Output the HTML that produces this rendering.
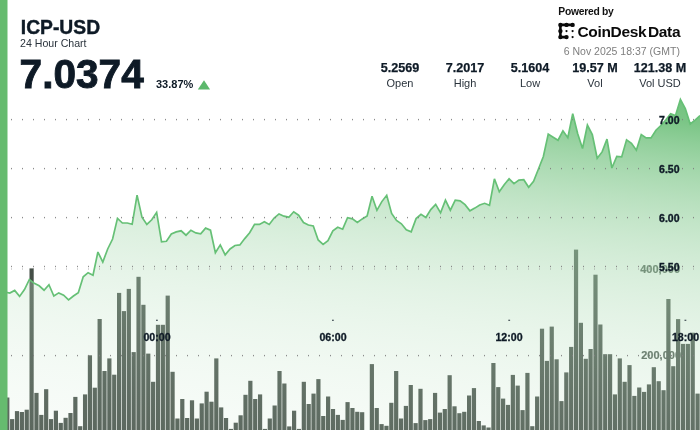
<!DOCTYPE html>
<html><head><meta charset="utf-8"><style>
html,body{margin:0;padding:0;background:#fff;}
body{width:700px;height:430px;overflow:hidden;position:relative;font-family:"Liberation Sans", sans-serif;}
svg{position:absolute;left:0;top:0;will-change:transform;}
</style></head><body>
<svg width="700" height="430" viewBox="0 0 700 430" font-family='"Liberation Sans", sans-serif'>
<defs>
<linearGradient id="vg" x1="0" y1="0" x2="-51.8" y2="436.9" gradientUnits="userSpaceOnUse"><stop offset="0.0000" stop-color="#fff" stop-opacity="0.5716"/><stop offset="0.0455" stop-color="#fff" stop-opacity="0.5716"/><stop offset="0.0909" stop-color="#fff" stop-opacity="0.5576"/><stop offset="0.1364" stop-color="#fff" stop-opacity="0.5157"/><stop offset="0.1818" stop-color="#fff" stop-opacity="0.4770"/><stop offset="0.2273" stop-color="#fff" stop-opacity="0.4413"/><stop offset="0.2727" stop-color="#fff" stop-opacity="0.4081"/><stop offset="0.3182" stop-color="#fff" stop-opacity="0.3775"/><stop offset="0.3636" stop-color="#fff" stop-opacity="0.3492"/><stop offset="0.4091" stop-color="#fff" stop-opacity="0.3230"/><stop offset="0.4545" stop-color="#fff" stop-opacity="0.2988"/><stop offset="0.5000" stop-color="#fff" stop-opacity="0.2763"/><stop offset="0.5455" stop-color="#fff" stop-opacity="0.2556"/><stop offset="0.5909" stop-color="#fff" stop-opacity="0.2364"/><stop offset="0.6364" stop-color="#fff" stop-opacity="0.2187"/><stop offset="0.6818" stop-color="#fff" stop-opacity="0.2023"/><stop offset="0.7273" stop-color="#fff" stop-opacity="0.1871"/><stop offset="0.7727" stop-color="#fff" stop-opacity="0.1731"/><stop offset="0.8182" stop-color="#fff" stop-opacity="0.1601"/><stop offset="0.8636" stop-color="#fff" stop-opacity="0.1481"/><stop offset="0.9091" stop-color="#fff" stop-opacity="0.1370"/><stop offset="0.9545" stop-color="#fff" stop-opacity="0.1267"/><stop offset="1.0000" stop-color="#fff" stop-opacity="0.1172"/></linearGradient>
<linearGradient id="ag" x1="0" y1="0" x2="-51.8" y2="436.9" gradientUnits="userSpaceOnUse">
<stop offset="0.0000" stop-color="rgb(92,184,106)" stop-opacity="0.8500"/><stop offset="0.0455" stop-color="rgb(92,184,106)" stop-opacity="0.8500"/><stop offset="0.0909" stop-color="rgb(92,184,106)" stop-opacity="0.8088"/><stop offset="0.1364" stop-color="rgb(92,184,106)" stop-opacity="0.6920"/><stop offset="0.1818" stop-color="rgb(92,184,106)" stop-opacity="0.5920"/><stop offset="0.2273" stop-color="rgb(92,184,106)" stop-opacity="0.5065"/><stop offset="0.2727" stop-color="rgb(92,184,106)" stop-opacity="0.4334"/><stop offset="0.3182" stop-color="rgb(92,184,106)" stop-opacity="0.3708"/><stop offset="0.3636" stop-color="rgb(92,184,106)" stop-opacity="0.3172"/><stop offset="0.4091" stop-color="rgb(92,184,106)" stop-opacity="0.2714"/><stop offset="0.4545" stop-color="rgb(92,184,106)" stop-opacity="0.2322"/><stop offset="0.5000" stop-color="rgb(92,184,106)" stop-opacity="0.1987"/><stop offset="0.5455" stop-color="rgb(92,184,106)" stop-opacity="0.1700"/><stop offset="0.5909" stop-color="rgb(92,184,106)" stop-opacity="0.1454"/><stop offset="0.6364" stop-color="rgb(92,184,106)" stop-opacity="0.1244"/><stop offset="0.6818" stop-color="rgb(92,184,106)" stop-opacity="0.1064"/><stop offset="0.7273" stop-color="rgb(92,184,106)" stop-opacity="0.0911"/><stop offset="0.7727" stop-color="rgb(92,184,106)" stop-opacity="0.0779"/><stop offset="0.8182" stop-color="rgb(92,184,106)" stop-opacity="0.0667"/><stop offset="0.8636" stop-color="rgb(92,184,106)" stop-opacity="0.0570"/><stop offset="0.9091" stop-color="rgb(92,184,106)" stop-opacity="0.0488"/><stop offset="0.9545" stop-color="rgb(92,184,106)" stop-opacity="0.0417"/><stop offset="1.0000" stop-color="rgb(92,184,106)" stop-opacity="0.0357"/>
</linearGradient>
</defs>
<rect width="700" height="430" fill="#fff"/>
<g font-weight="bold" font-size="11" fill="#46524a" stroke="#46524a" stroke-width="0.2" text-anchor="end">
<text x="680" y="272.5">400,000</text>
<text x="681" y="359.3">200,000</text>
</g>
<g fill="#444e47"><rect x="0.33" y="400" width="4.2" height="45"/><rect x="5.19" y="397.5" width="4.2" height="47.5"/><rect x="10.05" y="419.1" width="4.2" height="25.9"/><rect x="14.91" y="411.1" width="4.2" height="33.9"/><rect x="19.77" y="412" width="4.2" height="33"/><rect x="24.64" y="409.7" width="4.2" height="35.3"/><rect x="29.5" y="268.4" width="4.2" height="176.6"/><rect x="34.36" y="392.9" width="4.2" height="52.1"/><rect x="39.22" y="414.9" width="4.2" height="30.1"/><rect x="44.08" y="389.2" width="4.2" height="55.8"/><rect x="48.94" y="419.1" width="4.2" height="25.9"/><rect x="53.8" y="410.7" width="4.2" height="34.3"/><rect x="58.66" y="422.9" width="4.2" height="22.1"/><rect x="63.52" y="417.8" width="4.2" height="27.2"/><rect x="68.39" y="413" width="4.2" height="32"/><rect x="73.25" y="396.9" width="4.2" height="48.1"/><rect x="78.11" y="426.2" width="4.2" height="18.8"/><rect x="82.97" y="394.4" width="4.2" height="50.6"/><rect x="87.83" y="355.3" width="4.2" height="89.7"/><rect x="92.69" y="387.7" width="4.2" height="57.3"/><rect x="97.55" y="319" width="4.2" height="126"/><rect x="102.41" y="371" width="4.2" height="74"/><rect x="107.27" y="358.4" width="4.2" height="86.6"/><rect x="112.14" y="374.7" width="4.2" height="70.3"/><rect x="117" y="292.9" width="4.2" height="152.1"/><rect x="121.86" y="311.1" width="4.2" height="133.9"/><rect x="126.72" y="288.9" width="4.2" height="156.1"/><rect x="131.58" y="352.1" width="4.2" height="92.9"/><rect x="136.44" y="276.8" width="4.2" height="168.2"/><rect x="141.3" y="304.8" width="4.2" height="140.2"/><rect x="146.16" y="353.6" width="4.2" height="91.4"/><rect x="151.03" y="381.8" width="4.2" height="63.2"/><rect x="155.89" y="324.8" width="4.2" height="120.2"/><rect x="160.75" y="324.8" width="4.2" height="120.2"/><rect x="165.61" y="295.6" width="4.2" height="149.4"/><rect x="170.47" y="371.8" width="4.2" height="73.2"/><rect x="175.33" y="418.5" width="4.2" height="26.5"/><rect x="180.19" y="399" width="4.2" height="46"/><rect x="185.05" y="418" width="4.2" height="27"/><rect x="189.91" y="400.3" width="4.2" height="44.7"/><rect x="194.77" y="418.5" width="4.2" height="26.5"/><rect x="199.64" y="403.4" width="4.2" height="41.6"/><rect x="204.5" y="391.7" width="4.2" height="53.3"/><rect x="209.36" y="401.7" width="4.2" height="43.3"/><rect x="214.22" y="358.4" width="4.2" height="86.6"/><rect x="219.08" y="407.4" width="4.2" height="37.6"/><rect x="223.94" y="418" width="4.2" height="27"/><rect x="228.8" y="428.9" width="4.2" height="16.1"/><rect x="233.66" y="422.7" width="4.2" height="22.3"/><rect x="238.52" y="415.3" width="4.2" height="29.7"/><rect x="243.39" y="394.8" width="4.2" height="50.2"/><rect x="248.25" y="380.8" width="4.2" height="64.2"/><rect x="253.11" y="399" width="4.2" height="46"/><rect x="257.97" y="394.4" width="4.2" height="50.6"/><rect x="262.83" y="428.9" width="4.2" height="16.1"/><rect x="267.69" y="418.5" width="4.2" height="26.5"/><rect x="272.55" y="405.5" width="4.2" height="39.5"/><rect x="277.41" y="371" width="4.2" height="74"/><rect x="282.27" y="383.5" width="4.2" height="61.5"/><rect x="287.14" y="426.4" width="4.2" height="18.6"/><rect x="292" y="410.7" width="4.2" height="34.3"/><rect x="296.86" y="428.9" width="4.2" height="16.1"/><rect x="301.72" y="381.8" width="4.2" height="63.2"/><rect x="306.58" y="404" width="4.2" height="41"/><rect x="311.44" y="393.6" width="4.2" height="51.4"/><rect x="316.3" y="379.1" width="4.2" height="65.9"/><rect x="321.16" y="416" width="4.2" height="29"/><rect x="326.02" y="396.5" width="4.2" height="48.5"/><rect x="330.89" y="409" width="4.2" height="36"/><rect x="335.75" y="414.9" width="4.2" height="30.1"/><rect x="340.61" y="419.9" width="4.2" height="25.1"/><rect x="345.47" y="402.1" width="4.2" height="42.9"/><rect x="350.33" y="408" width="4.2" height="37"/><rect x="355.19" y="411.8" width="4.2" height="33.2"/><rect x="360.05" y="412.2" width="4.2" height="32.8"/><rect x="364.91" y="432" width="4.2" height="13"/><rect x="369.77" y="364.1" width="4.2" height="80.9"/><rect x="374.64" y="408" width="4.2" height="37"/><rect x="379.5" y="424.1" width="4.2" height="20.9"/><rect x="384.36" y="425.8" width="4.2" height="19.2"/><rect x="389.22" y="402.8" width="4.2" height="42.2"/><rect x="394.08" y="371" width="4.2" height="74"/><rect x="398.94" y="418.5" width="4.2" height="26.5"/><rect x="403.8" y="405.9" width="4.2" height="39.1"/><rect x="408.66" y="385" width="4.2" height="60"/><rect x="413.52" y="423.1" width="4.2" height="21.9"/><rect x="418.39" y="388.8" width="4.2" height="56.2"/><rect x="423.25" y="420.1" width="4.2" height="24.9"/><rect x="428.11" y="419.1" width="4.2" height="25.9"/><rect x="432.97" y="392.9" width="4.2" height="52.1"/><rect x="437.83" y="412.6" width="4.2" height="32.4"/><rect x="442.69" y="409" width="4.2" height="36"/><rect x="447.55" y="375.2" width="4.2" height="69.8"/><rect x="452.41" y="406.3" width="4.2" height="38.7"/><rect x="457.27" y="413.2" width="4.2" height="31.8"/><rect x="462.14" y="411.8" width="4.2" height="33.2"/><rect x="467" y="395.5" width="4.2" height="49.5"/><rect x="471.86" y="388.1" width="4.2" height="56.9"/><rect x="476.72" y="421" width="4.2" height="24"/><rect x="481.58" y="425.4" width="4.2" height="19.6"/><rect x="486.44" y="427.5" width="4.2" height="17.5"/><rect x="491.3" y="363" width="4.2" height="82"/><rect x="496.16" y="387.1" width="4.2" height="57.9"/><rect x="501.02" y="398.6" width="4.2" height="46.4"/><rect x="505.89" y="404.9" width="4.2" height="40.1"/><rect x="510.75" y="374.9" width="4.2" height="70.1"/><rect x="515.61" y="385.6" width="4.2" height="59.4"/><rect x="520.47" y="410.1" width="4.2" height="34.9"/><rect x="525.33" y="372.9" width="4.2" height="72.1"/><rect x="530.19" y="426.2" width="4.2" height="18.8"/><rect x="535.05" y="396.5" width="4.2" height="48.5"/><rect x="539.91" y="328.7" width="4.2" height="116.3"/><rect x="544.77" y="360.9" width="4.2" height="84.1"/><rect x="549.64" y="326.6" width="4.2" height="118.4"/><rect x="554.5" y="359.3" width="4.2" height="85.7"/><rect x="559.36" y="401.1" width="4.2" height="43.9"/><rect x="564.22" y="372.4" width="4.2" height="72.6"/><rect x="569.08" y="346.9" width="4.2" height="98.1"/><rect x="573.94" y="249.6" width="4.2" height="195.4"/><rect x="578.8" y="322.8" width="4.2" height="122.2"/><rect x="583.66" y="358.8" width="4.2" height="86.2"/><rect x="588.52" y="349" width="4.2" height="96"/><rect x="593.39" y="274.7" width="4.2" height="170.3"/><rect x="598.25" y="324.5" width="4.2" height="120.5"/><rect x="603.11" y="354.2" width="4.2" height="90.8"/><rect x="607.97" y="354.2" width="4.2" height="90.8"/><rect x="612.83" y="394.4" width="4.2" height="50.6"/><rect x="617.69" y="358.4" width="4.2" height="86.6"/><rect x="622.55" y="381.8" width="4.2" height="63.2"/><rect x="627.41" y="365.1" width="4.2" height="79.9"/><rect x="632.27" y="395.9" width="4.2" height="49.1"/><rect x="637.14" y="387.5" width="4.2" height="57.5"/><rect x="642" y="391.9" width="4.2" height="53.1"/><rect x="646.86" y="384.4" width="4.2" height="60.6"/><rect x="651.72" y="367.2" width="4.2" height="77.8"/><rect x="656.58" y="381.2" width="4.2" height="63.8"/><rect x="661.44" y="390.2" width="4.2" height="54.8"/><rect x="666.3" y="299" width="4.2" height="146"/><rect x="671.16" y="366.2" width="4.2" height="78.8"/><rect x="676.02" y="319.1" width="4.2" height="125.9"/><rect x="680.89" y="343.9" width="4.2" height="101.1"/><rect x="685.75" y="343.9" width="4.2" height="101.1"/><rect x="690.61" y="332.7" width="4.2" height="112.3"/><rect x="695.47" y="393.6" width="4.2" height="51.4"/></g>
<path d="M0,293 L4.9,292 L9.79,293.1 L14.69,290.4 L19.58,296.4 L24.48,289.6 L29.37,279.5 L34.27,283.3 L39.16,285.8 L44.06,290.2 L48.95,284.7 L53.85,296 L58.74,292.9 L63.64,295.2 L68.53,299.8 L73.43,296 L78.32,292.7 L83.22,276.8 L88.11,272.7 L93.01,275.2 L97.9,252 L102.8,262 L107.69,249 L112.59,239 L117.48,218.4 L122.38,223 L127.27,223 L132.17,224.3 L137.06,195.1 L141.96,217.2 L146.85,224.4 L151.75,219.8 L156.64,212.4 L161.54,241.9 L166.43,241.3 L171.33,234 L176.22,231.9 L181.12,230.8 L186.01,235.2 L190.91,230.2 L195.8,232.9 L200.7,233.8 L205.59,228.1 L210.49,230.2 L215.38,252.8 L220.28,244.9 L225.17,254.9 L230.07,249 L234.97,245.5 L239.86,244.9 L244.76,238.6 L249.65,232.7 L254.55,224.4 L259.44,224.4 L264.34,221.8 L269.23,224.5 L274.13,218.1 L279.02,213.9 L283.92,216.2 L288.81,217.2 L293.71,211.8 L298.6,215.2 L303.5,222.5 L308.39,225 L313.29,226 L318.18,240 L323.08,244.4 L327.97,240.7 L332.87,230.8 L337.76,227.3 L342.66,229.2 L347.55,217.7 L352.45,218.9 L357.34,222.5 L362.24,218.9 L367.13,216 L372.03,196.3 L376.92,210.3 L381.82,201.6 L386.71,195.3 L391.61,213.5 L396.5,220.5 L401.4,223.8 L406.29,229.7 L411.19,231.8 L416.08,218.6 L420.98,214.4 L425.87,217.5 L430.77,209.6 L435.66,204.4 L440.56,212.9 L445.45,200.2 L450.35,210.2 L455.24,200.2 L460.14,200.8 L465.03,204.6 L469.93,210.8 L474.83,208.1 L479.72,205 L484.62,203.3 L489.51,205.4 L494.41,178.8 L499.3,191.8 L504.2,184.7 L509.09,178.8 L513.99,183.6 L518.88,180.1 L523.78,179.7 L528.67,187.2 L533.57,181.2 L538.46,169 L543.36,156.5 L548.25,134.1 L553.15,137.2 L558.04,140.2 L562.94,130.8 L567.83,137.7 L572.73,113.6 L577.62,133.5 L582.52,148.5 L587.41,125.1 L592.31,134.5 L597.2,158.2 L602.1,151.9 L606.99,139.1 L611.89,168 L616.78,156.5 L621.68,156.9 L626.57,139.8 L631.47,143.3 L636.36,150.2 L641.26,134.5 L646.15,137.9 L651.05,137.9 L655.94,130.2 L660.84,125.5 L665.73,120 L670.63,113.8 L675.52,115.6 L680.42,99.5 L685.31,108.5 L690.21,124 L695.1,120.2 L700,115.6 L700,440 L0,440 Z" fill="url(#vg)"/>
<path d="M0,293 L4.9,292 L9.79,293.1 L14.69,290.4 L19.58,296.4 L24.48,289.6 L29.37,279.5 L34.27,283.3 L39.16,285.8 L44.06,290.2 L48.95,284.7 L53.85,296 L58.74,292.9 L63.64,295.2 L68.53,299.8 L73.43,296 L78.32,292.7 L83.22,276.8 L88.11,272.7 L93.01,275.2 L97.9,252 L102.8,262 L107.69,249 L112.59,239 L117.48,218.4 L122.38,223 L127.27,223 L132.17,224.3 L137.06,195.1 L141.96,217.2 L146.85,224.4 L151.75,219.8 L156.64,212.4 L161.54,241.9 L166.43,241.3 L171.33,234 L176.22,231.9 L181.12,230.8 L186.01,235.2 L190.91,230.2 L195.8,232.9 L200.7,233.8 L205.59,228.1 L210.49,230.2 L215.38,252.8 L220.28,244.9 L225.17,254.9 L230.07,249 L234.97,245.5 L239.86,244.9 L244.76,238.6 L249.65,232.7 L254.55,224.4 L259.44,224.4 L264.34,221.8 L269.23,224.5 L274.13,218.1 L279.02,213.9 L283.92,216.2 L288.81,217.2 L293.71,211.8 L298.6,215.2 L303.5,222.5 L308.39,225 L313.29,226 L318.18,240 L323.08,244.4 L327.97,240.7 L332.87,230.8 L337.76,227.3 L342.66,229.2 L347.55,217.7 L352.45,218.9 L357.34,222.5 L362.24,218.9 L367.13,216 L372.03,196.3 L376.92,210.3 L381.82,201.6 L386.71,195.3 L391.61,213.5 L396.5,220.5 L401.4,223.8 L406.29,229.7 L411.19,231.8 L416.08,218.6 L420.98,214.4 L425.87,217.5 L430.77,209.6 L435.66,204.4 L440.56,212.9 L445.45,200.2 L450.35,210.2 L455.24,200.2 L460.14,200.8 L465.03,204.6 L469.93,210.8 L474.83,208.1 L479.72,205 L484.62,203.3 L489.51,205.4 L494.41,178.8 L499.3,191.8 L504.2,184.7 L509.09,178.8 L513.99,183.6 L518.88,180.1 L523.78,179.7 L528.67,187.2 L533.57,181.2 L538.46,169 L543.36,156.5 L548.25,134.1 L553.15,137.2 L558.04,140.2 L562.94,130.8 L567.83,137.7 L572.73,113.6 L577.62,133.5 L582.52,148.5 L587.41,125.1 L592.31,134.5 L597.2,158.2 L602.1,151.9 L606.99,139.1 L611.89,168 L616.78,156.5 L621.68,156.9 L626.57,139.8 L631.47,143.3 L636.36,150.2 L641.26,134.5 L646.15,137.9 L651.05,137.9 L655.94,130.2 L660.84,125.5 L665.73,120 L670.63,113.8 L675.52,115.6 L680.42,99.5 L685.31,108.5 L690.21,124 L695.1,120.2 L700,115.6 L700,440 L0,440 Z" fill="url(#ag)"/>
<path d="M0,293 L4.9,292 L9.79,293.1 L14.69,290.4 L19.58,296.4 L24.48,289.6 L29.37,279.5 L34.27,283.3 L39.16,285.8 L44.06,290.2 L48.95,284.7 L53.85,296 L58.74,292.9 L63.64,295.2 L68.53,299.8 L73.43,296 L78.32,292.7 L83.22,276.8 L88.11,272.7 L93.01,275.2 L97.9,252 L102.8,262 L107.69,249 L112.59,239 L117.48,218.4 L122.38,223 L127.27,223 L132.17,224.3 L137.06,195.1 L141.96,217.2 L146.85,224.4 L151.75,219.8 L156.64,212.4 L161.54,241.9 L166.43,241.3 L171.33,234 L176.22,231.9 L181.12,230.8 L186.01,235.2 L190.91,230.2 L195.8,232.9 L200.7,233.8 L205.59,228.1 L210.49,230.2 L215.38,252.8 L220.28,244.9 L225.17,254.9 L230.07,249 L234.97,245.5 L239.86,244.9 L244.76,238.6 L249.65,232.7 L254.55,224.4 L259.44,224.4 L264.34,221.8 L269.23,224.5 L274.13,218.1 L279.02,213.9 L283.92,216.2 L288.81,217.2 L293.71,211.8 L298.6,215.2 L303.5,222.5 L308.39,225 L313.29,226 L318.18,240 L323.08,244.4 L327.97,240.7 L332.87,230.8 L337.76,227.3 L342.66,229.2 L347.55,217.7 L352.45,218.9 L357.34,222.5 L362.24,218.9 L367.13,216 L372.03,196.3 L376.92,210.3 L381.82,201.6 L386.71,195.3 L391.61,213.5 L396.5,220.5 L401.4,223.8 L406.29,229.7 L411.19,231.8 L416.08,218.6 L420.98,214.4 L425.87,217.5 L430.77,209.6 L435.66,204.4 L440.56,212.9 L445.45,200.2 L450.35,210.2 L455.24,200.2 L460.14,200.8 L465.03,204.6 L469.93,210.8 L474.83,208.1 L479.72,205 L484.62,203.3 L489.51,205.4 L494.41,178.8 L499.3,191.8 L504.2,184.7 L509.09,178.8 L513.99,183.6 L518.88,180.1 L523.78,179.7 L528.67,187.2 L533.57,181.2 L538.46,169 L543.36,156.5 L548.25,134.1 L553.15,137.2 L558.04,140.2 L562.94,130.8 L567.83,137.7 L572.73,113.6 L577.62,133.5 L582.52,148.5 L587.41,125.1 L592.31,134.5 L597.2,158.2 L602.1,151.9 L606.99,139.1 L611.89,168 L616.78,156.5 L621.68,156.9 L626.57,139.8 L631.47,143.3 L636.36,150.2 L641.26,134.5 L646.15,137.9 L651.05,137.9 L655.94,130.2 L660.84,125.5 L665.73,120 L670.63,113.8 L675.52,115.6 L680.42,99.5 L685.31,108.5 L690.21,124 L695.1,120.2 L700,115.6" fill="none" stroke="#66c076" stroke-width="1.7" stroke-linejoin="miter" stroke-miterlimit="3"/>
<g fill="#808080" opacity="0.9"><rect x="11" y="118.9" width="1" height="1.4"/><rect x="22" y="118.9" width="1" height="1.4"/><rect x="33" y="118.9" width="1" height="1.4"/><rect x="44" y="118.9" width="1" height="1.4"/><rect x="55" y="118.9" width="1" height="1.4"/><rect x="66" y="118.9" width="1" height="1.4"/><rect x="77" y="118.9" width="1" height="1.4"/><rect x="88" y="118.9" width="1" height="1.4"/><rect x="99" y="118.9" width="1" height="1.4"/><rect x="110" y="118.9" width="1" height="1.4"/><rect x="121" y="118.9" width="1" height="1.4"/><rect x="132" y="118.9" width="1" height="1.4"/><rect x="143" y="118.9" width="1" height="1.4"/><rect x="154" y="118.9" width="1" height="1.4"/><rect x="165" y="118.9" width="1" height="1.4"/><rect x="176" y="118.9" width="1" height="1.4"/><rect x="187" y="118.9" width="1" height="1.4"/><rect x="198" y="118.9" width="1" height="1.4"/><rect x="209" y="118.9" width="1" height="1.4"/><rect x="220" y="118.9" width="1" height="1.4"/><rect x="231" y="118.9" width="1" height="1.4"/><rect x="242" y="118.9" width="1" height="1.4"/><rect x="253" y="118.9" width="1" height="1.4"/><rect x="264" y="118.9" width="1" height="1.4"/><rect x="275" y="118.9" width="1" height="1.4"/><rect x="286" y="118.9" width="1" height="1.4"/><rect x="297" y="118.9" width="1" height="1.4"/><rect x="308" y="118.9" width="1" height="1.4"/><rect x="319" y="118.9" width="1" height="1.4"/><rect x="330" y="118.9" width="1" height="1.4"/><rect x="341" y="118.9" width="1" height="1.4"/><rect x="352" y="118.9" width="1" height="1.4"/><rect x="363" y="118.9" width="1" height="1.4"/><rect x="374" y="118.9" width="1" height="1.4"/><rect x="385" y="118.9" width="1" height="1.4"/><rect x="396" y="118.9" width="1" height="1.4"/><rect x="407" y="118.9" width="1" height="1.4"/><rect x="418" y="118.9" width="1" height="1.4"/><rect x="429" y="118.9" width="1" height="1.4"/><rect x="440" y="118.9" width="1" height="1.4"/><rect x="451" y="118.9" width="1" height="1.4"/><rect x="462" y="118.9" width="1" height="1.4"/><rect x="473" y="118.9" width="1" height="1.4"/><rect x="484" y="118.9" width="1" height="1.4"/><rect x="495" y="118.9" width="1" height="1.4"/><rect x="506" y="118.9" width="1" height="1.4"/><rect x="517" y="118.9" width="1" height="1.4"/><rect x="528" y="118.9" width="1" height="1.4"/><rect x="539" y="118.9" width="1" height="1.4"/><rect x="550" y="118.9" width="1" height="1.4"/><rect x="561" y="118.9" width="1" height="1.4"/><rect x="572" y="118.9" width="1" height="1.4"/><rect x="583" y="118.9" width="1" height="1.4"/><rect x="594" y="118.9" width="1" height="1.4"/><rect x="605" y="118.9" width="1" height="1.4"/><rect x="616" y="118.9" width="1" height="1.4"/><rect x="627" y="118.9" width="1" height="1.4"/><rect x="638" y="118.9" width="1" height="1.4"/><rect x="649" y="118.9" width="1" height="1.4"/><rect x="682" y="118.9" width="1" height="1.4"/><rect x="693" y="118.9" width="1" height="1.4"/></g><g fill="#808080" opacity="0.9"><rect x="11" y="167.9" width="1" height="1.4"/><rect x="22" y="167.9" width="1" height="1.4"/><rect x="33" y="167.9" width="1" height="1.4"/><rect x="44" y="167.9" width="1" height="1.4"/><rect x="55" y="167.9" width="1" height="1.4"/><rect x="66" y="167.9" width="1" height="1.4"/><rect x="77" y="167.9" width="1" height="1.4"/><rect x="88" y="167.9" width="1" height="1.4"/><rect x="99" y="167.9" width="1" height="1.4"/><rect x="110" y="167.9" width="1" height="1.4"/><rect x="121" y="167.9" width="1" height="1.4"/><rect x="132" y="167.9" width="1" height="1.4"/><rect x="143" y="167.9" width="1" height="1.4"/><rect x="154" y="167.9" width="1" height="1.4"/><rect x="165" y="167.9" width="1" height="1.4"/><rect x="176" y="167.9" width="1" height="1.4"/><rect x="187" y="167.9" width="1" height="1.4"/><rect x="198" y="167.9" width="1" height="1.4"/><rect x="209" y="167.9" width="1" height="1.4"/><rect x="220" y="167.9" width="1" height="1.4"/><rect x="231" y="167.9" width="1" height="1.4"/><rect x="242" y="167.9" width="1" height="1.4"/><rect x="253" y="167.9" width="1" height="1.4"/><rect x="264" y="167.9" width="1" height="1.4"/><rect x="275" y="167.9" width="1" height="1.4"/><rect x="286" y="167.9" width="1" height="1.4"/><rect x="297" y="167.9" width="1" height="1.4"/><rect x="308" y="167.9" width="1" height="1.4"/><rect x="319" y="167.9" width="1" height="1.4"/><rect x="330" y="167.9" width="1" height="1.4"/><rect x="341" y="167.9" width="1" height="1.4"/><rect x="352" y="167.9" width="1" height="1.4"/><rect x="363" y="167.9" width="1" height="1.4"/><rect x="374" y="167.9" width="1" height="1.4"/><rect x="385" y="167.9" width="1" height="1.4"/><rect x="396" y="167.9" width="1" height="1.4"/><rect x="407" y="167.9" width="1" height="1.4"/><rect x="418" y="167.9" width="1" height="1.4"/><rect x="429" y="167.9" width="1" height="1.4"/><rect x="440" y="167.9" width="1" height="1.4"/><rect x="451" y="167.9" width="1" height="1.4"/><rect x="462" y="167.9" width="1" height="1.4"/><rect x="473" y="167.9" width="1" height="1.4"/><rect x="484" y="167.9" width="1" height="1.4"/><rect x="495" y="167.9" width="1" height="1.4"/><rect x="506" y="167.9" width="1" height="1.4"/><rect x="517" y="167.9" width="1" height="1.4"/><rect x="528" y="167.9" width="1" height="1.4"/><rect x="539" y="167.9" width="1" height="1.4"/><rect x="550" y="167.9" width="1" height="1.4"/><rect x="561" y="167.9" width="1" height="1.4"/><rect x="572" y="167.9" width="1" height="1.4"/><rect x="583" y="167.9" width="1" height="1.4"/><rect x="594" y="167.9" width="1" height="1.4"/><rect x="605" y="167.9" width="1" height="1.4"/><rect x="616" y="167.9" width="1" height="1.4"/><rect x="627" y="167.9" width="1" height="1.4"/><rect x="638" y="167.9" width="1" height="1.4"/><rect x="649" y="167.9" width="1" height="1.4"/><rect x="682" y="167.9" width="1" height="1.4"/><rect x="693" y="167.9" width="1" height="1.4"/></g><g fill="#808080" opacity="0.9"><rect x="11" y="216.9" width="1" height="1.4"/><rect x="22" y="216.9" width="1" height="1.4"/><rect x="33" y="216.9" width="1" height="1.4"/><rect x="44" y="216.9" width="1" height="1.4"/><rect x="55" y="216.9" width="1" height="1.4"/><rect x="66" y="216.9" width="1" height="1.4"/><rect x="77" y="216.9" width="1" height="1.4"/><rect x="88" y="216.9" width="1" height="1.4"/><rect x="99" y="216.9" width="1" height="1.4"/><rect x="110" y="216.9" width="1" height="1.4"/><rect x="121" y="216.9" width="1" height="1.4"/><rect x="132" y="216.9" width="1" height="1.4"/><rect x="143" y="216.9" width="1" height="1.4"/><rect x="154" y="216.9" width="1" height="1.4"/><rect x="165" y="216.9" width="1" height="1.4"/><rect x="176" y="216.9" width="1" height="1.4"/><rect x="187" y="216.9" width="1" height="1.4"/><rect x="198" y="216.9" width="1" height="1.4"/><rect x="209" y="216.9" width="1" height="1.4"/><rect x="220" y="216.9" width="1" height="1.4"/><rect x="231" y="216.9" width="1" height="1.4"/><rect x="242" y="216.9" width="1" height="1.4"/><rect x="253" y="216.9" width="1" height="1.4"/><rect x="264" y="216.9" width="1" height="1.4"/><rect x="275" y="216.9" width="1" height="1.4"/><rect x="286" y="216.9" width="1" height="1.4"/><rect x="297" y="216.9" width="1" height="1.4"/><rect x="308" y="216.9" width="1" height="1.4"/><rect x="319" y="216.9" width="1" height="1.4"/><rect x="330" y="216.9" width="1" height="1.4"/><rect x="341" y="216.9" width="1" height="1.4"/><rect x="352" y="216.9" width="1" height="1.4"/><rect x="363" y="216.9" width="1" height="1.4"/><rect x="374" y="216.9" width="1" height="1.4"/><rect x="385" y="216.9" width="1" height="1.4"/><rect x="396" y="216.9" width="1" height="1.4"/><rect x="407" y="216.9" width="1" height="1.4"/><rect x="418" y="216.9" width="1" height="1.4"/><rect x="429" y="216.9" width="1" height="1.4"/><rect x="440" y="216.9" width="1" height="1.4"/><rect x="451" y="216.9" width="1" height="1.4"/><rect x="462" y="216.9" width="1" height="1.4"/><rect x="473" y="216.9" width="1" height="1.4"/><rect x="484" y="216.9" width="1" height="1.4"/><rect x="495" y="216.9" width="1" height="1.4"/><rect x="506" y="216.9" width="1" height="1.4"/><rect x="517" y="216.9" width="1" height="1.4"/><rect x="528" y="216.9" width="1" height="1.4"/><rect x="539" y="216.9" width="1" height="1.4"/><rect x="550" y="216.9" width="1" height="1.4"/><rect x="561" y="216.9" width="1" height="1.4"/><rect x="572" y="216.9" width="1" height="1.4"/><rect x="583" y="216.9" width="1" height="1.4"/><rect x="594" y="216.9" width="1" height="1.4"/><rect x="605" y="216.9" width="1" height="1.4"/><rect x="616" y="216.9" width="1" height="1.4"/><rect x="627" y="216.9" width="1" height="1.4"/><rect x="638" y="216.9" width="1" height="1.4"/><rect x="649" y="216.9" width="1" height="1.4"/><rect x="682" y="216.9" width="1" height="1.4"/><rect x="693" y="216.9" width="1" height="1.4"/></g><g fill="#808080" opacity="0.9"><rect x="11" y="265.8" width="1" height="1.4"/><rect x="22" y="265.8" width="1" height="1.4"/><rect x="33" y="265.8" width="1" height="1.4"/><rect x="44" y="265.8" width="1" height="1.4"/><rect x="55" y="265.8" width="1" height="1.4"/><rect x="66" y="265.8" width="1" height="1.4"/><rect x="77" y="265.8" width="1" height="1.4"/><rect x="88" y="265.8" width="1" height="1.4"/><rect x="99" y="265.8" width="1" height="1.4"/><rect x="110" y="265.8" width="1" height="1.4"/><rect x="121" y="265.8" width="1" height="1.4"/><rect x="132" y="265.8" width="1" height="1.4"/><rect x="143" y="265.8" width="1" height="1.4"/><rect x="154" y="265.8" width="1" height="1.4"/><rect x="165" y="265.8" width="1" height="1.4"/><rect x="176" y="265.8" width="1" height="1.4"/><rect x="187" y="265.8" width="1" height="1.4"/><rect x="198" y="265.8" width="1" height="1.4"/><rect x="209" y="265.8" width="1" height="1.4"/><rect x="220" y="265.8" width="1" height="1.4"/><rect x="231" y="265.8" width="1" height="1.4"/><rect x="242" y="265.8" width="1" height="1.4"/><rect x="253" y="265.8" width="1" height="1.4"/><rect x="264" y="265.8" width="1" height="1.4"/><rect x="275" y="265.8" width="1" height="1.4"/><rect x="286" y="265.8" width="1" height="1.4"/><rect x="297" y="265.8" width="1" height="1.4"/><rect x="308" y="265.8" width="1" height="1.4"/><rect x="319" y="265.8" width="1" height="1.4"/><rect x="330" y="265.8" width="1" height="1.4"/><rect x="341" y="265.8" width="1" height="1.4"/><rect x="352" y="265.8" width="1" height="1.4"/><rect x="363" y="265.8" width="1" height="1.4"/><rect x="374" y="265.8" width="1" height="1.4"/><rect x="385" y="265.8" width="1" height="1.4"/><rect x="396" y="265.8" width="1" height="1.4"/><rect x="407" y="265.8" width="1" height="1.4"/><rect x="418" y="265.8" width="1" height="1.4"/><rect x="429" y="265.8" width="1" height="1.4"/><rect x="440" y="265.8" width="1" height="1.4"/><rect x="451" y="265.8" width="1" height="1.4"/><rect x="462" y="265.8" width="1" height="1.4"/><rect x="473" y="265.8" width="1" height="1.4"/><rect x="484" y="265.8" width="1" height="1.4"/><rect x="495" y="265.8" width="1" height="1.4"/><rect x="506" y="265.8" width="1" height="1.4"/><rect x="517" y="265.8" width="1" height="1.4"/><rect x="528" y="265.8" width="1" height="1.4"/><rect x="539" y="265.8" width="1" height="1.4"/><rect x="550" y="265.8" width="1" height="1.4"/><rect x="561" y="265.8" width="1" height="1.4"/><rect x="572" y="265.8" width="1" height="1.4"/><rect x="583" y="265.8" width="1" height="1.4"/><rect x="594" y="265.8" width="1" height="1.4"/><rect x="605" y="265.8" width="1" height="1.4"/><rect x="616" y="265.8" width="1" height="1.4"/><rect x="627" y="265.8" width="1" height="1.4"/><rect x="638" y="265.8" width="1" height="1.4"/><rect x="649" y="265.8" width="1" height="1.4"/><rect x="682" y="265.8" width="1" height="1.4"/><rect x="693" y="265.8" width="1" height="1.4"/></g><g fill="#8a8a8a" opacity="0.5"><rect x="11" y="268.3" width="1" height="1.4"/><rect x="22" y="268.3" width="1" height="1.4"/><rect x="33" y="268.3" width="1" height="1.4"/><rect x="44" y="268.3" width="1" height="1.4"/><rect x="55" y="268.3" width="1" height="1.4"/><rect x="66" y="268.3" width="1" height="1.4"/><rect x="77" y="268.3" width="1" height="1.4"/><rect x="88" y="268.3" width="1" height="1.4"/><rect x="99" y="268.3" width="1" height="1.4"/><rect x="110" y="268.3" width="1" height="1.4"/><rect x="121" y="268.3" width="1" height="1.4"/><rect x="132" y="268.3" width="1" height="1.4"/><rect x="143" y="268.3" width="1" height="1.4"/><rect x="154" y="268.3" width="1" height="1.4"/><rect x="165" y="268.3" width="1" height="1.4"/><rect x="176" y="268.3" width="1" height="1.4"/><rect x="187" y="268.3" width="1" height="1.4"/><rect x="198" y="268.3" width="1" height="1.4"/><rect x="209" y="268.3" width="1" height="1.4"/><rect x="220" y="268.3" width="1" height="1.4"/><rect x="231" y="268.3" width="1" height="1.4"/><rect x="242" y="268.3" width="1" height="1.4"/><rect x="253" y="268.3" width="1" height="1.4"/><rect x="264" y="268.3" width="1" height="1.4"/><rect x="275" y="268.3" width="1" height="1.4"/><rect x="286" y="268.3" width="1" height="1.4"/><rect x="297" y="268.3" width="1" height="1.4"/><rect x="308" y="268.3" width="1" height="1.4"/><rect x="319" y="268.3" width="1" height="1.4"/><rect x="330" y="268.3" width="1" height="1.4"/><rect x="341" y="268.3" width="1" height="1.4"/><rect x="352" y="268.3" width="1" height="1.4"/><rect x="363" y="268.3" width="1" height="1.4"/><rect x="374" y="268.3" width="1" height="1.4"/><rect x="385" y="268.3" width="1" height="1.4"/><rect x="396" y="268.3" width="1" height="1.4"/><rect x="407" y="268.3" width="1" height="1.4"/><rect x="418" y="268.3" width="1" height="1.4"/><rect x="429" y="268.3" width="1" height="1.4"/><rect x="440" y="268.3" width="1" height="1.4"/><rect x="451" y="268.3" width="1" height="1.4"/><rect x="462" y="268.3" width="1" height="1.4"/><rect x="473" y="268.3" width="1" height="1.4"/><rect x="484" y="268.3" width="1" height="1.4"/><rect x="495" y="268.3" width="1" height="1.4"/><rect x="506" y="268.3" width="1" height="1.4"/><rect x="517" y="268.3" width="1" height="1.4"/><rect x="528" y="268.3" width="1" height="1.4"/><rect x="539" y="268.3" width="1" height="1.4"/><rect x="550" y="268.3" width="1" height="1.4"/><rect x="561" y="268.3" width="1" height="1.4"/><rect x="572" y="268.3" width="1" height="1.4"/><rect x="583" y="268.3" width="1" height="1.4"/><rect x="594" y="268.3" width="1" height="1.4"/><rect x="605" y="268.3" width="1" height="1.4"/><rect x="616" y="268.3" width="1" height="1.4"/><rect x="627" y="268.3" width="1" height="1.4"/><rect x="638" y="268.3" width="1" height="1.4"/><rect x="649" y="268.3" width="1" height="1.4"/><rect x="660" y="268.3" width="1" height="1.4"/><rect x="671" y="268.3" width="1" height="1.4"/><rect x="682" y="268.3" width="1" height="1.4"/><rect x="693" y="268.3" width="1" height="1.4"/></g><g fill="#808080" opacity="0.9"><rect x="11" y="354.9" width="1" height="1.4"/><rect x="22" y="354.9" width="1" height="1.4"/><rect x="33" y="354.9" width="1" height="1.4"/><rect x="44" y="354.9" width="1" height="1.4"/><rect x="55" y="354.9" width="1" height="1.4"/><rect x="66" y="354.9" width="1" height="1.4"/><rect x="77" y="354.9" width="1" height="1.4"/><rect x="88" y="354.9" width="1" height="1.4"/><rect x="99" y="354.9" width="1" height="1.4"/><rect x="110" y="354.9" width="1" height="1.4"/><rect x="121" y="354.9" width="1" height="1.4"/><rect x="132" y="354.9" width="1" height="1.4"/><rect x="143" y="354.9" width="1" height="1.4"/><rect x="154" y="354.9" width="1" height="1.4"/><rect x="165" y="354.9" width="1" height="1.4"/><rect x="176" y="354.9" width="1" height="1.4"/><rect x="187" y="354.9" width="1" height="1.4"/><rect x="198" y="354.9" width="1" height="1.4"/><rect x="209" y="354.9" width="1" height="1.4"/><rect x="220" y="354.9" width="1" height="1.4"/><rect x="231" y="354.9" width="1" height="1.4"/><rect x="242" y="354.9" width="1" height="1.4"/><rect x="253" y="354.9" width="1" height="1.4"/><rect x="264" y="354.9" width="1" height="1.4"/><rect x="275" y="354.9" width="1" height="1.4"/><rect x="286" y="354.9" width="1" height="1.4"/><rect x="297" y="354.9" width="1" height="1.4"/><rect x="308" y="354.9" width="1" height="1.4"/><rect x="319" y="354.9" width="1" height="1.4"/><rect x="330" y="354.9" width="1" height="1.4"/><rect x="341" y="354.9" width="1" height="1.4"/><rect x="352" y="354.9" width="1" height="1.4"/><rect x="363" y="354.9" width="1" height="1.4"/><rect x="374" y="354.9" width="1" height="1.4"/><rect x="385" y="354.9" width="1" height="1.4"/><rect x="396" y="354.9" width="1" height="1.4"/><rect x="407" y="354.9" width="1" height="1.4"/><rect x="418" y="354.9" width="1" height="1.4"/><rect x="429" y="354.9" width="1" height="1.4"/><rect x="440" y="354.9" width="1" height="1.4"/><rect x="451" y="354.9" width="1" height="1.4"/><rect x="462" y="354.9" width="1" height="1.4"/><rect x="473" y="354.9" width="1" height="1.4"/><rect x="484" y="354.9" width="1" height="1.4"/><rect x="495" y="354.9" width="1" height="1.4"/><rect x="506" y="354.9" width="1" height="1.4"/><rect x="517" y="354.9" width="1" height="1.4"/><rect x="528" y="354.9" width="1" height="1.4"/><rect x="539" y="354.9" width="1" height="1.4"/><rect x="550" y="354.9" width="1" height="1.4"/><rect x="561" y="354.9" width="1" height="1.4"/><rect x="572" y="354.9" width="1" height="1.4"/><rect x="583" y="354.9" width="1" height="1.4"/><rect x="594" y="354.9" width="1" height="1.4"/><rect x="605" y="354.9" width="1" height="1.4"/><rect x="616" y="354.9" width="1" height="1.4"/><rect x="627" y="354.9" width="1" height="1.4"/><rect x="638" y="354.9" width="1" height="1.4"/><rect x="649" y="354.9" width="1" height="1.4"/><rect x="660" y="354.9" width="1" height="1.4"/><rect x="671" y="354.9" width="1" height="1.4"/><rect x="682" y="354.9" width="1" height="1.4"/><rect x="693" y="354.9" width="1" height="1.4"/></g>
<g font-weight="bold" font-size="10.5" fill="#0e1a26" stroke="#0e1a26" stroke-width="0.35" text-anchor="end">
<text x="679.5" y="123.5">7.00</text>
<text x="679.5" y="172.5">6.50</text>
<text x="679.5" y="221.5">6.00</text>
</g>
<text x="679.5" y="271" font-weight="bold" font-size="10.5" fill="#0e1a26" stroke="#0e1a26" stroke-width="0.35" text-anchor="end">5.50</text>
<g font-weight="bold" font-size="10.6" fill="#0e1a26" stroke="#0e1a26" stroke-width="0.3" text-anchor="middle">
<text x="157" y="341">00:00</text>
<text x="333" y="341">06:00</text>
<text x="509" y="341">12:00</text>
<text x="685.5" y="341">18:00</text>
</g>
<g fill="#0e1a26">
<rect x="156" y="319.7" width="1.8" height="1.2" opacity="0.75"/>
<rect x="332" y="319.7" width="1.8" height="1.2" opacity="0.75"/>
<rect x="508.3" y="319.7" width="1.8" height="1.2" opacity="0.75"/>
<rect x="684.5" y="319.7" width="1.8" height="1.2" opacity="0.75"/>
</g>
<rect x="0" y="0" width="7.5" height="430" fill="#66bb6f"/>
<text x="20.8" y="33.7" font-weight="bold" font-size="19.3" fill="#0e1a26" stroke="#0e1a26" stroke-width="0.4">ICP-USD</text>
<text x="20" y="47" font-size="10.6" fill="#2a333c">24 Hour Chart</text>
<text x="19.6" y="88" font-weight="bold" font-size="40.6" fill="#0e1a26" stroke="#0e1a26" stroke-width="0.9">7.0374</text>
<text x="156" y="87.9" font-weight="bold" font-size="11" fill="#0e1a26">33.87%</text>
<path d="M197.8,89.6 L204,80.2 L210.1,89.6 Z" fill="#5cb86c"/>
<g font-weight="bold" font-size="12.6" fill="#0e1a26" stroke="#0e1a26" stroke-width="0.25" text-anchor="middle">
<text x="400" y="72.1">5.2569</text>
<text x="465" y="72.1">7.2017</text>
<text x="530" y="72.1">5.1604</text>
<text x="595" y="72.1">19.57 M</text>
<text x="660" y="72.1">121.38 M</text>
</g>
<g font-size="11" fill="#2a333c" text-anchor="middle">
<text x="400" y="87">Open</text>
<text x="465" y="87">High</text>
<text x="530" y="87">Low</text>
<text x="595" y="87">Vol</text>
<text x="660" y="87">Vol USD</text>
</g>
<text x="558.3" y="14.7" font-weight="bold" font-size="10.3" fill="#111" letter-spacing="-0.25">Powered by</text>
<g fill="#0a0a0a" stroke="#0a0a0a">
<path d="M560.4,24.9 L572.6,24.9 M560.4,24.9 L560.4,37.1 L566.5,37.1" stroke-width="2.6" fill="none"/>
<circle cx="560.4" cy="24.9" r="2.2" stroke="none"/><circle cx="566.5" cy="24.9" r="2.2" stroke="none"/><circle cx="572.6" cy="24.9" r="2.2" stroke="none"/>
<circle cx="560.4" cy="31.1" r="2.2" stroke="none"/><circle cx="560.4" cy="37.1" r="2.2" stroke="none"/><circle cx="566.5" cy="37.1" r="2.2" stroke="none"/>
<circle cx="566.5" cy="31.1" r="1.1" stroke="none"/><circle cx="572.6" cy="31.1" r="1.1" stroke="none"/><circle cx="572.6" cy="37.1" r="1.1" stroke="none"/>
</g>
<text x="577.5" y="36.5" font-weight="bold" font-size="15.5" fill="#0a0a0a" letter-spacing="-0.35">CoinDesk<tspan dx="1.8">Data</tspan></text>
<text x="679.9" y="54.9" font-size="10.5" fill="#7e7e7e" text-anchor="end">6 Nov 2025 18:37 (GMT)</text>
</svg>
</body></html>
